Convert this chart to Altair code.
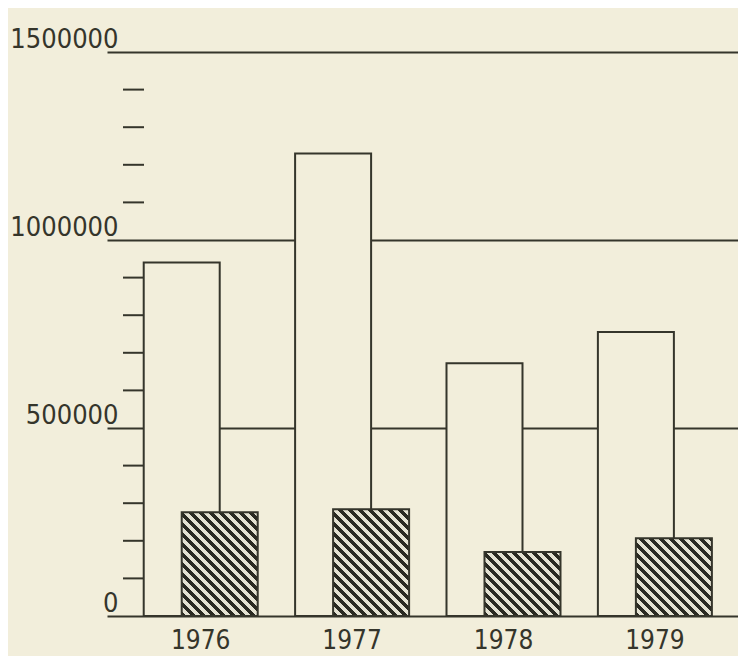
import altair as alt
import pandas as pd

# ---- data ----
years = ["1976", "1977", "1978", "1979"]
totals = [940000, 1230000, 672000, 755000]
shaded = [276000, 284000, 170000, 207000]
major_ticks = [0, 500000, 1000000, 1500000]
minor_ticks = [100000, 200000, 300000, 400000, 600000, 700000, 800000, 900000,
               1100000, 1200000, 1300000, 1400000]

# ---- style ----
BG = "#f2eedb"
INK = "#35352b"
DARK = "#2a2a22"
LIGHT = "#e4e2d2"
FONT = "DejaVu Sans Condensed, DejaVu Sans, sans-serif"
W, H = 631, 564
X_RANGE = 641.6
YMAX = 1500000
BAR_W = 76
OFF = 19


def hatch(value, period=10.0):
    """Linear gradient (bounding-box units) giving 45-degree '\\' stripes."""
    w = BAR_W
    h = max(value * H / YMAX, 1.0)
    k = (w + h) / (w * w + h * h)
    dx, dy = w * k, -h * k
    dt = period / (w + h)
    stops = []
    t = 0.0
    while t < 1.0:
        a = min(t, 1.0)
        b = min(t + dt / 2, 1.0)
        c = min(t + dt, 1.0)
        stops += [
            {"offset": a, "color": DARK},
            {"offset": b, "color": DARK},
            {"offset": b, "color": LIGHT},
            {"offset": c, "color": LIGHT},
        ]
        t += dt
    return {"gradient": "linear", "x1": 0, "y1": 1, "x2": dx, "y2": 1 + dy,
            "stops": stops}


df = pd.DataFrame({"year": years, "total": totals, "shaded": shaded})
minor_df = pd.DataFrame({"v": minor_ticks})

x_enc = alt.X(
    "year:N", sort=years,
    scale=alt.Scale(range=[0, X_RANGE], paddingInner=0, paddingOuter=0.119),
    axis=alt.Axis(title=None, labelAngle=0, ticks=False, domain=False, grid=False,
                  labelPadding=32, labelBaseline="alphabetic", labelFontSize=26,
                  labelFont=FONT, labelColor=INK),
)
y_scale = alt.Scale(domain=[0, YMAX], nice=False, zero=True)

white = alt.Chart(df).mark_bar(
    width=BAR_W, xOffset=-OFF, fill=BG, stroke=INK, strokeWidth=2
).encode(
    x=x_enc,
    y=alt.Y("total:Q", scale=y_scale,
            axis=alt.Axis(title=None, values=major_ticks, format="d", ticks=False,
                          domain=False, grid=True, gridColor=INK, gridWidth=2,
                          labelPadding=-11, labelFontSize=27, labelFont=FONT,
                          labelColor=INK, labelBaseline="alphabetic",
                          labelOffset=-5)),
)

minor = alt.Chart(minor_df).mark_rule(color=INK, strokeWidth=2).encode(
    y=alt.Y("v:Q", scale=y_scale),
    x=alt.value(16), x2=alt.value(37),
)

layers = [white, minor]
for yr, val in zip(years, shaded):
    layers.append(
        alt.Chart(df).transform_filter(alt.datum.year == yr).mark_bar(
            width=BAR_W, xOffset=OFF, fill=hatch(val), stroke=INK, strokeWidth=2
        ).encode(
            x=alt.X("year:N", sort=years),
            y=alt.Y("shaded:Q", scale=y_scale),
        )
    )

chart = alt.layer(*layers).properties(
    width=W, height=H,
    background=BG,
    padding={"left": 99, "top": 44, "right": 0, "bottom": 40},
    autosize=alt.AutoSizeParams(type="none"),
).configure_view(stroke=None)

chart.save("out.html", embed_options={"renderer": "svg", "actions": False})
